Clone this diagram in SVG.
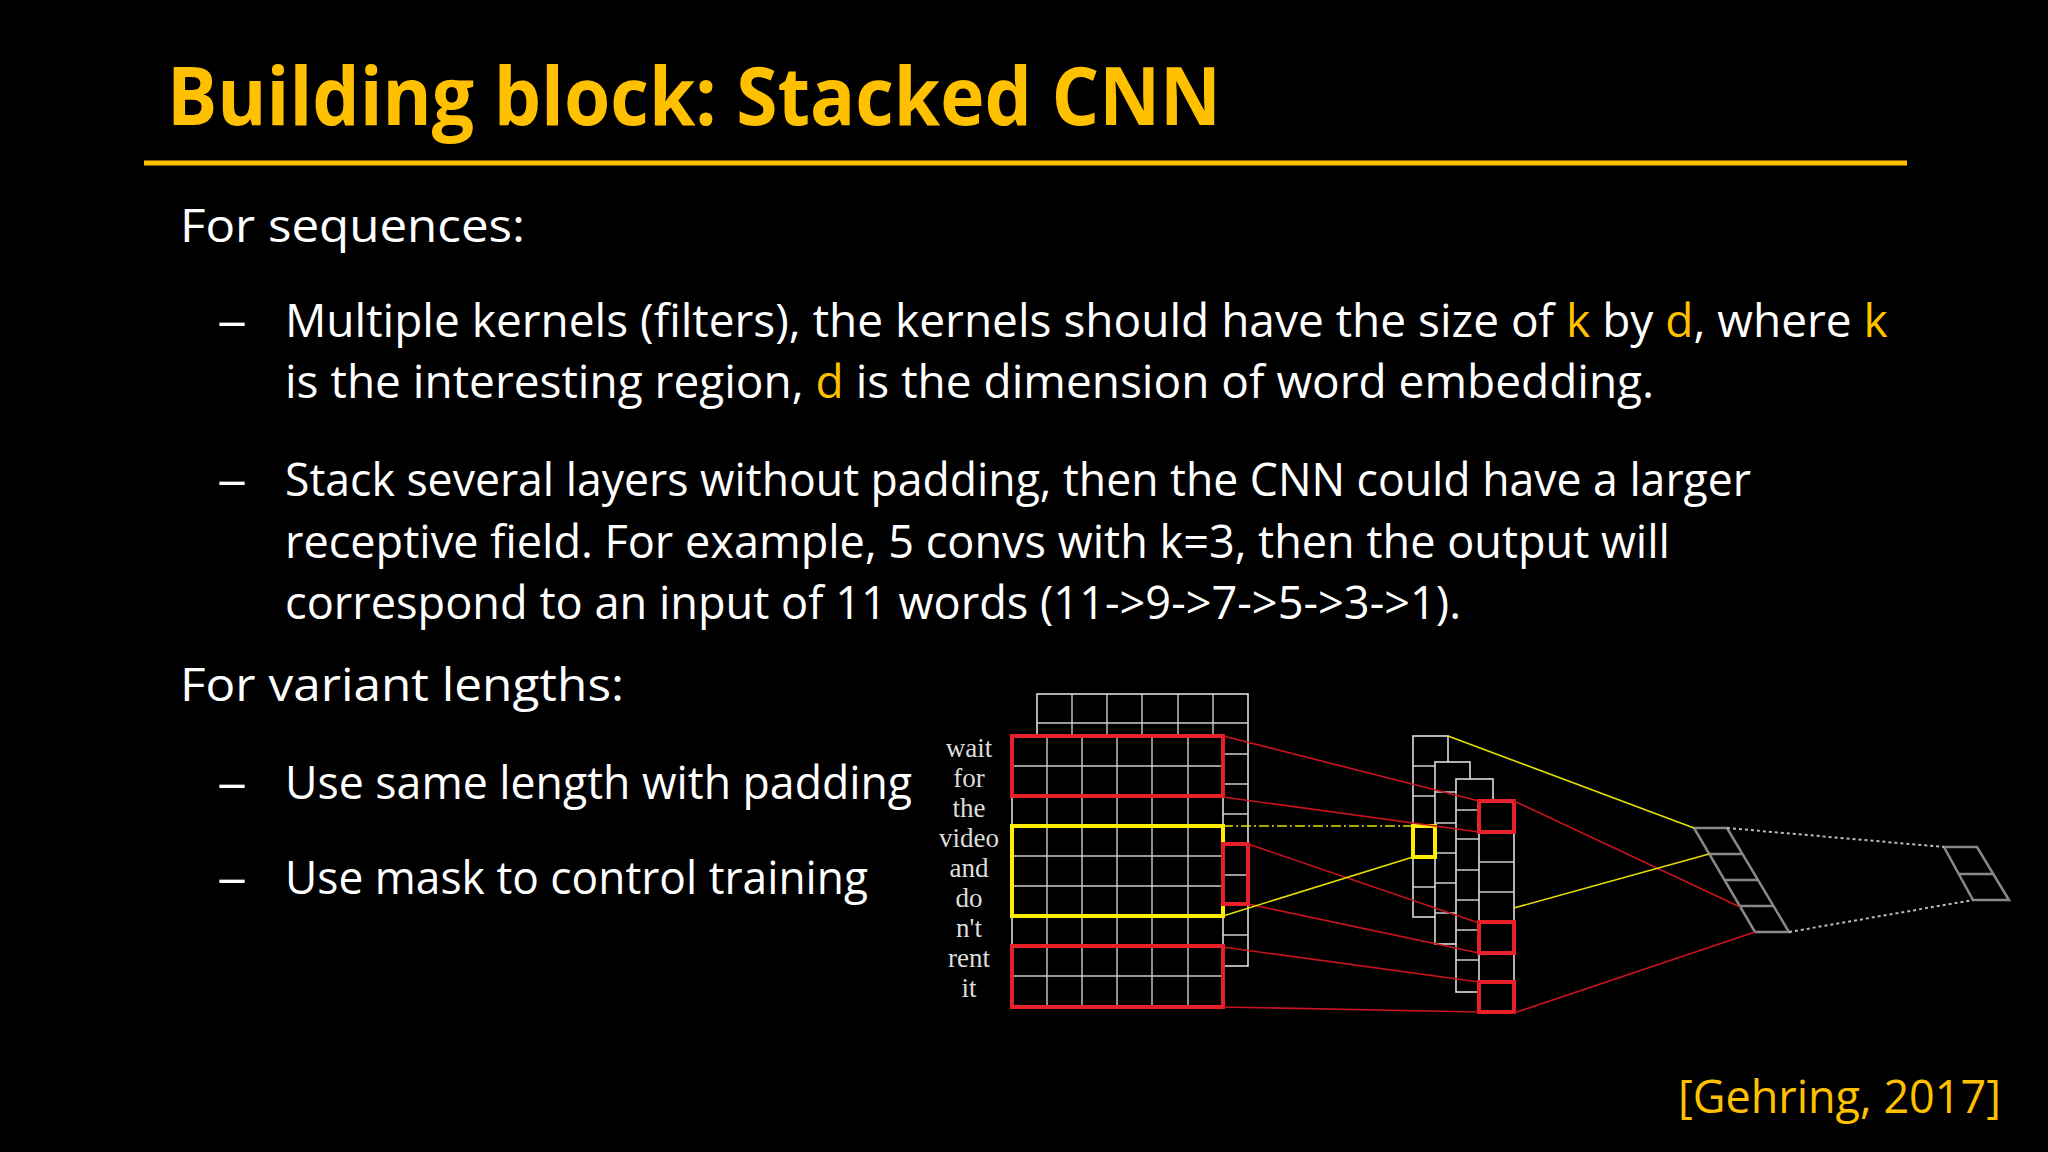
<svg xmlns="http://www.w3.org/2000/svg" width="2048" height="1152" viewBox="0 0 2048 1152">
<defs><style>
.t{font-family:"Open Sans","Liberation Sans",sans-serif;fill:#fff;font-size:46px}
.d{font-family:"Open Sans","Liberation Sans",sans-serif;fill:#fff;font-size:46px}
.y{fill:#FFC000}
.g{fill:#000;stroke:#ddd;stroke-width:1.6}
.gl{stroke:#ccc;stroke-width:1.4;fill:none}
.w{font-family:"Liberation Serif",serif;fill:#ddd;font-size:27px;text-anchor:middle}
.r{fill:none;stroke:#e8202a;stroke-width:4}
.yb{fill:none;stroke:#ffee00;stroke-width:4}
.rl{stroke:#c8141e;stroke-width:1.6;fill:none}
.yl{stroke:#e6e000;stroke-width:1.6;fill:none}
.p{fill:none;stroke:#888;stroke-width:2.5}
</style></defs>
<rect width="2048" height="1152" fill="#000"/>
<g id="title">
<text x="167" y="125" font-family="'Open Sans','Liberation Sans',sans-serif" font-weight="bold" font-size="80" fill="#FFC000" textLength="1054" lengthAdjust="spacingAndGlyphs">Building block: Stacked CNN</text>
<line x1="144" y1="163" x2="1907" y2="163" stroke="#FFC000" stroke-width="5"/>
</g>
<g id="body">
<text class="t" x="180" y="242" textLength="345" lengthAdjust="spacingAndGlyphs">For sequences:</text>
<text class="d" x="217" y="337" textLength="30" lengthAdjust="spacingAndGlyphs">–</text>
<text class="t" x="285" y="337">Multiple kernels (filters), the kernels should have the size of <tspan class="y">k</tspan> by <tspan class="y">d</tspan>, where <tspan class="y">k</tspan></text>
<text class="t" x="285" y="398">is the interesting region, <tspan class="y">d</tspan> is the dimension of word embedding.</text>
<text class="d" x="217" y="496" textLength="30" lengthAdjust="spacingAndGlyphs">–</text>
<text class="t" x="285" y="496" textLength="1466" lengthAdjust="spacingAndGlyphs">Stack several layers without padding, then the CNN could have a larger</text>
<text class="t" x="285" y="558" textLength="1385" lengthAdjust="spacingAndGlyphs">receptive field. For example, 5 convs with k=3, then the output will</text>
<text class="t" x="285" y="619" textLength="1176" lengthAdjust="spacingAndGlyphs">correspond to an input of 11 words (11-&gt;9-&gt;7-&gt;5-&gt;3-&gt;1).</text>
<text class="t" x="180" y="701" textLength="444" lengthAdjust="spacingAndGlyphs">For variant lengths:</text>
<text class="d" x="217" y="799" textLength="30" lengthAdjust="spacingAndGlyphs">–</text>
<text class="t" x="285" y="799" textLength="627" lengthAdjust="spacingAndGlyphs">Use same length with padding</text>
<text class="d" x="217" y="894" textLength="30" lengthAdjust="spacingAndGlyphs">–</text>
<text class="t" x="285" y="894" textLength="583" lengthAdjust="spacingAndGlyphs">Use mask to control training</text>
<text class="t y" x="1678" y="1113" textLength="323" lengthAdjust="spacingAndGlyphs">[Gehring, 2017]</text>
</g>
<g id="words">
<text class="w" x="969" y="757">wait</text><text class="w" x="969" y="787">for</text><text class="w" x="969" y="817">the</text>
<text class="w" x="969" y="847">video</text><text class="w" x="969" y="877">and</text><text class="w" x="969" y="907">do</text>
<text class="w" x="969" y="937">n't</text><text class="w" x="969" y="967">rent</text><text class="w" x="969" y="997">it</text>
</g>
<g id="back-grid">
<rect class="g" x="1037" y="694" width="211" height="272"/>
<path class="gl" d="M1037 723H1248M1223 754H1248M1223 784H1248M1223 814H1248M1223 844H1248M1223 875H1248M1223 905H1248M1223 935H1248M1072 694V736M1107 694V736M1142 694V736M1178 694V736M1213 694V736"/>
</g>
<g id="front-grid">
<rect class="g" x="1012" y="736" width="211" height="271"/>
<path class="gl" d="M1012 766H1223M1012 796H1223M1012 826H1223M1012 856H1223M1012 886H1223M1012 916H1223M1012 946H1223M1012 976H1223M1047 736V1007M1082 736V1007M1117 736V1007M1152 736V1007M1188 736V1007"/>
<rect class="r" x="1012" y="736" width="211" height="60"/>
<rect class="r" x="1012" y="946" width="211" height="61"/>
<rect class="yb" x="1012" y="826" width="211" height="90"/>
<rect class="r" x="1223" y="844" width="25" height="60"/>
</g>
<g id="layer2">
<rect class="g" x="1413" y="736" width="35" height="181"/>
<path class="gl" d="M1413 766H1448M1413 796H1448M1413 826H1448M1413 857H1448M1413 887H1448"/>
<rect class="g" x="1435" y="762" width="35" height="182"/>
<path class="gl" d="M1435 792H1470M1435 823H1470M1435 853H1470M1435 883H1470M1435 913H1470"/>
<rect class="g" x="1456" y="779" width="37" height="213"/>
<path class="gl" d="M1456 810H1493M1456 839H1493M1456 870H1493M1456 900H1493M1456 930H1493M1456 960H1493"/>
<rect class="g" x="1479" y="801" width="35" height="211"/>
<path class="gl" d="M1479 832H1514M1479 862H1514M1479 892H1514M1479 922H1514M1479 953H1514M1479 982H1514"/>
<rect class="r" x="1479" y="801" width="35" height="31"/>
<rect class="r" x="1479" y="922" width="35" height="31"/>
<rect class="r" x="1479" y="982" width="35" height="30"/>
<rect class="yb" x="1413" y="826" width="22" height="31"/>
</g>
<g id="output">
<path class="p" d="M1694 828H1727L1789 932H1755ZM1709 854H1742M1724 880H1758M1740 906H1773"/>
<path class="p" d="M1944 847H1977L2009 900H1973ZM1959 874H1993"/>
</g>
<g id="connectors">
<path class="rl" d="M1223 736L1479 801M1223 797L1479 832M1248 844L1479 923M1248 904L1479 953M1223 947L1479 982M1223 1007L1479 1012M1514 801L1740 907M1514 1013L1755 932"/>
<path class="yl" d="M1223 826H1413" stroke-dasharray="10 3 2 3"/>
<path class="yl" d="M1223 916L1413 857M1448 736L1694 828M1514 908L1709 854"/>
<path d="M1727 828L1944 847M1789 932L1973 900" stroke="#bbb" stroke-width="2" stroke-dasharray="3 3" fill="none"/>
</g>
</svg>
